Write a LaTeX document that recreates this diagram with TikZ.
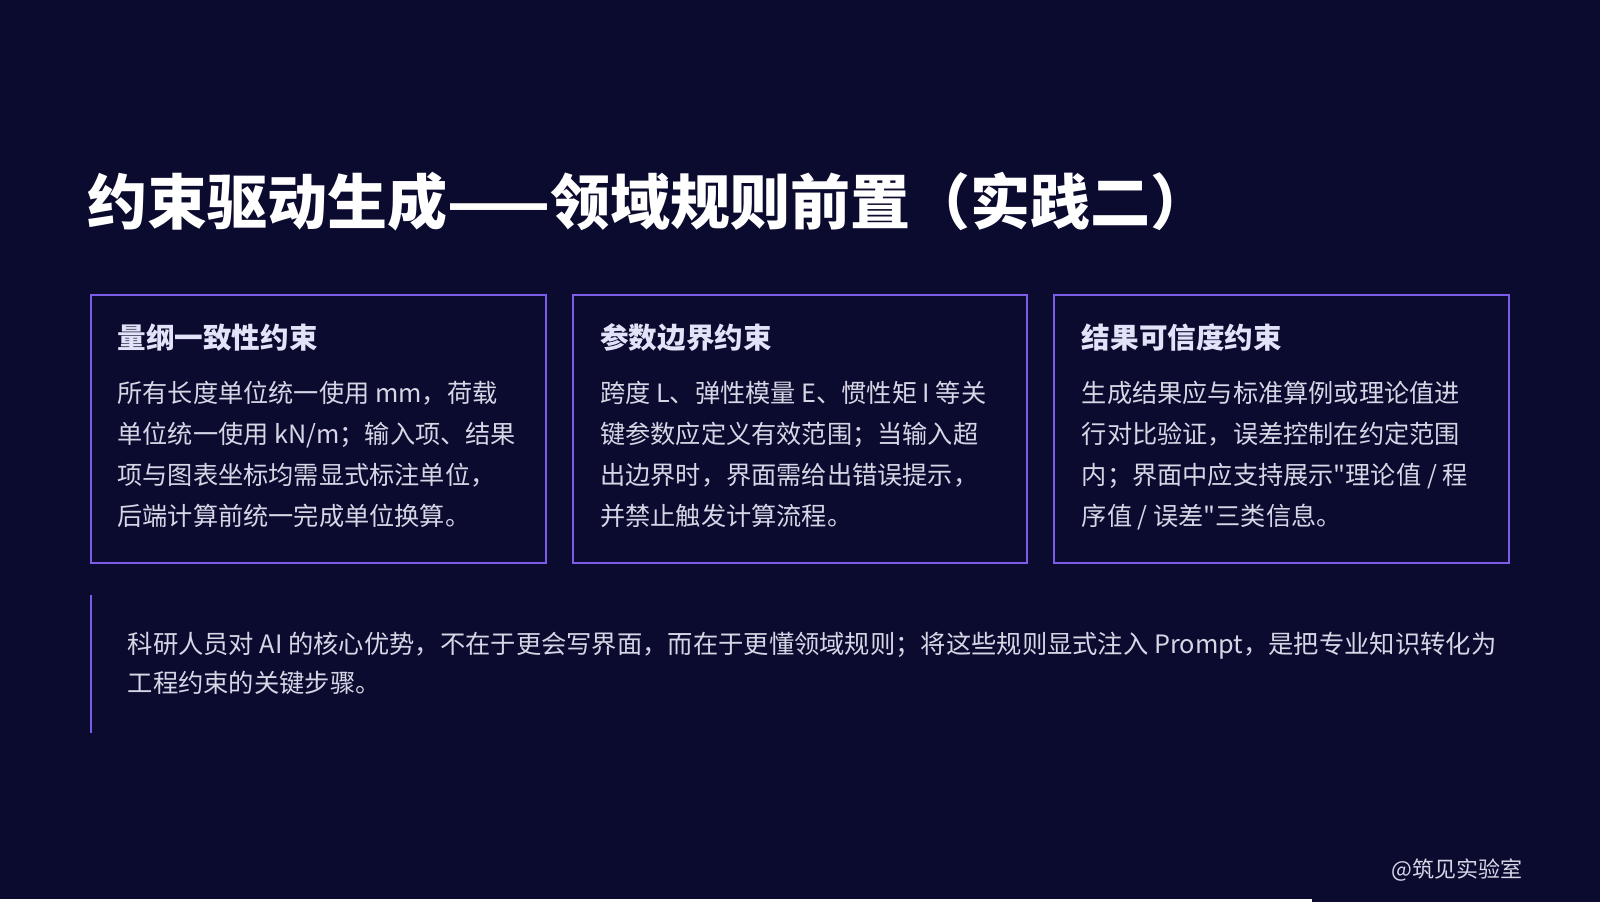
\documentclass[tikz,border=0pt]{standalone}
\usepackage{fontspec}
\setmainfont{Noto Sans CJK SC}[Ligatures=TeXOff]
\definecolor{bg}{HTML}{0B0A2F}
\definecolor{pur}{HTML}{7C5CE8}
\definecolor{hd}{HTML}{E2E2F8}
\definecolor{tx}{HTML}{D6D6E6}
\begin{document}
\begin{tikzpicture}[x=1.0204pt,y=-1.0204pt,
  box/.style={draw=pur,line width=2pt},
  head/.style={anchor=west,inner sep=0,text=hd,font=\fontsize{28.6}{32}\selectfont\bfseries},
  body/.style={anchor=north west,inner sep=0,text=tx,align=left,font=\fontsize{25.2}{41}\selectfont}]
\useasboundingbox (0,0) rectangle (1568,884);
\fill[bg] (0,0) rectangle (1568,884);
\fill[white] (0,881.5) rectangle (1286,884);
\node[anchor=west,inner sep=0,text=white,font=\fontsize{60}{62}\selectfont\bfseries] (title) at (86,198) {约束驱动生成——领域规则前置（实践二）};
\draw[box] (89,289) rectangle (535,552);
\draw[box] (562,289) rectangle (1006,552);
\draw[box] (1033,289) rectangle (1479,552);
\node[head] (h1) at (115,331) {量纲一致性约束};
\node[head] (h2) at (588,331) {参数边界约束};
\node[head] (h3) at (1060,331) {结果可信度约束};
\node[body] (b1) at (115,373) {所有长度单位统一使用 mm，荷载\\单位统一使用 kN/m；输入项、结果\\项与图表坐标均需显式标注单位，\\后端计算前统一完成单位换算。};
\node[body] (b2) at (588,373) {跨度 L、弹性模量 E、惯性矩 I 等关\\键参数应定义有效范围；当输入超\\出边界时，界面需给出错误提示，\\并禁止触发计算流程。};
\node[body] (b3) at (1060,373) {生成结果应与标准算例或理论值进\\行对比验证，误差控制在约定范围\\内；界面中应支持展示"理论值 / 程\\序值 / 误差"三类信息。};
\draw[pur,line width=2.5pt] (89,583) -- (89,718);
\node[anchor=north west,inner sep=0,text=tx,align=left,font=\fontsize{25.3}{39}\selectfont] (q) at (125,619) {科研人员对 AI 的核心优势，不在于更会写界面，而在于更懂领域规则；将这些规则显式注入 Prompt，是把专业知识转化为\\工程约束的关键步骤。};
\node[anchor=east,inner sep=0,text=tx,font=\fontsize{22}{24}\selectfont] (wm) at (1492,853) {@筑见实验室};
\end{tikzpicture}
\end{document}
